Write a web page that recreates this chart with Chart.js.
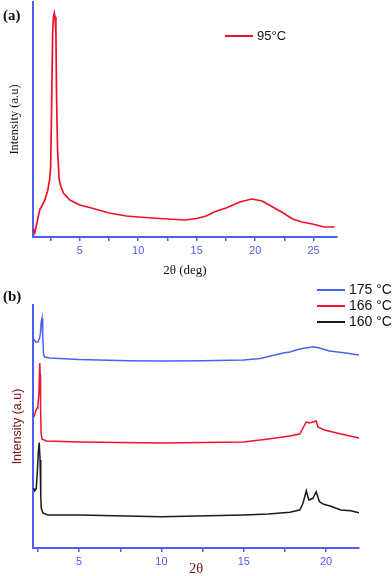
<!DOCTYPE html>
<html>
<head>
<meta charset="utf-8">
<script src="https://cdn.jsdelivr.net/npm/chart.js@4.4.1/dist/chart.umd.min.js"></script>
<style>
  html, body { margin: 0; padding: 0; background: #fff; }
  #wrap { position: relative; width: 392px; height: 576px; }
  canvas { position: absolute; left: 0; }
  #chartA { top: 0; }
  #chartB { top: 284px; }
  .tag { position: absolute; left: 3px; font: bold 15px 'Liberation Serif', serif; color: #111; }
</style>
</head>
<body>
<div id="wrap">
  <canvas id="chartA" width="392" height="284"></canvas>
  <canvas id="chartB" width="392" height="292"></canvas>
  <div class="tag" style="top:7px">(a)</div>
  <div class="tag" style="top:288px">(b)</div>
</div>
<script>
// Panel (a): 95 °C scan
const theta95 = [1.0, 1.15, 1.3, 1.57, 1.8, 2.02, 2.25, 2.42, 2.51, 2.6, 2.68, 2.75, 2.82, 2.89, 2.96, 3.02, 3.1, 3.24, 3.4, 3.6, 4.15, 5, 6, 7.5, 9, 10, 12.5, 14, 15, 15.8, 16.5, 17.5, 18.7, 19.7, 20.6, 21.5, 22.4, 23.2, 24, 24.9, 25.9, 26.8];
const int95 = [9, 4, 12, 27, 32, 37, 46, 57, 70, 137, 204, 220, 224, 220, 204, 137, 87, 57, 50, 44, 37, 32, 29, 24, 21, 20, 18, 17, 18.5, 21, 25, 29, 35, 38, 36, 30, 24, 18, 15, 13, 10, 10];

// Panel (b): three temperatures, stacked
const theta175 = [2.25, 2.35, 2.5, 2.6, 2.65, 2.7, 2.75, 2.79, 2.84, 2.9, 3.2, 5, 8, 10, 12.5, 15, 16, 17.4, 17.8, 18.4, 19.2, 19.6, 20.2, 21.2, 22];
const int175 = [209, 206, 206, 210, 215, 226, 230, 213, 194, 191, 190, 188.5, 187.3, 187, 187.3, 188, 189.5, 195, 196, 199, 201.3, 200, 197, 195, 193];

const theta166 = [2.25, 2.35, 2.45, 2.5, 2.56, 2.61, 2.64, 2.66, 2.69, 2.75, 3.0, 5, 10, 15, 16.5, 17.8, 18.4, 18.6, 18.8, 19.0, 19.2, 19.4, 19.5, 19.9, 20.9, 22];
const int166 = [131, 136, 140, 143, 155, 185, 173, 138, 115, 109, 107, 106, 105, 106, 109, 112, 114, 120, 126, 125, 126, 127, 121, 118, 114, 110];

const theta160 = [2.25, 2.3, 2.35, 2.4, 2.47, 2.53, 2.58, 2.63, 2.67, 2.7, 2.8, 3.1, 5, 10, 15, 16.5, 17.8, 18.4, 18.6, 18.8, 18.95, 19.2, 19.4, 19.6, 19.85, 20.25, 20.9, 21.5, 22];
const int160 = [60, 57, 58, 60, 78, 98, 105.5, 88, 53, 40, 35, 33, 33, 31.3, 33, 34, 35.7, 38, 44.7, 57.3, 48, 49.7, 56.3, 46.3, 43.7, 42, 38, 37.3, 35.3];

const ticksA = [2.5, 5, 7.5, 10, 12.5, 15, 17.5, 20, 22.5, 25];
const ticksB = [2.5, 5, 7.5, 10, 12.5, 15, 17.5, 20];

const blueAxis = '#4c5ff0';
const maroon = '#7b1416';
const sans = "'Liberation Sans', Arial, sans-serif";
const serif = "'Liberation Serif', 'Times New Roman', serif";

function pairs(xs, ys) {
    return xs.map((x, i) => ({ x: x, y: ys[i] }));
}

function tickLabel(v) {
    return v % 5 === 0 ? v : '';
}

// Legend drawn at a fixed spot, rows taken from the datasets
const seriesKey = {
    id: 'seriesKey',
    afterDraw(chart, args, opts) {
        const ctx = chart.ctx;
        ctx.save();
        ctx.font = opts.font;
        ctx.textBaseline = 'middle';
        chart.data.datasets.forEach((ds, i) => {
            const y = opts.y + i * opts.rowGap;
            ctx.strokeStyle = ds.borderColor;
            ctx.lineWidth = opts.lineWidth;
            ctx.beginPath();
            ctx.moveTo(opts.x, y);
            ctx.lineTo(opts.x + opts.lineLen, y);
            ctx.stroke();
            ctx.fillStyle = '#111';
            ctx.fillText(ds.label, opts.x + opts.lineLen + 4, y);
        });
        ctx.restore();
    }
};

document.addEventListener('DOMContentLoaded', function() {
    new Chart(document.getElementById('chartA'), {
        type: 'line',
        data: {
            datasets: [{
                label: '95°C',
                data: pairs(theta95, int95),
                borderColor: '#f0102a',
                borderWidth: 1.7,
                pointRadius: 0,
                tension: 0
            }]
        },
        options: {
            responsive: false,
            animation: false,
            layout: { padding: { left: 0, top: 2, right: 55, bottom: 0 } },
            plugins: {
                legend: { display: false },
                tooltip: { enabled: false },
                seriesKey: { x: 225, y: 36, rowGap: 16, lineLen: 28, lineWidth: 2, font: '13px ' + sans }
            },
            scales: {
                x: {
                    type: 'linear',
                    min: 1,
                    max: 27,
                    afterFit: s => { s.height = 47; },
                    afterBuildTicks: s => { s.ticks = ticksA.map(v => ({ value: v })); },
                    ticks: { color: blueAxis, font: { family: sans, size: 11 }, padding: 3, autoSkip: false, maxRotation: 0, callback: tickLabel },
                    grid: { drawOnChartArea: false, drawTicks: true, tickLength: 4, color: blueAxis, lineWidth: 1.5 },
                    border: { color: blueAxis, width: 2 },
                    title: { display: true, text: '2θ (deg)', color: '#111', font: { family: serif, size: 13 }, padding: { top: 0, bottom: 6 } }
                },
                y: {
                    min: 0,
                    max: 235,
                    afterFit: s => { s.width = 33; },
                    ticks: { display: false },
                    grid: { display: false },
                    border: { color: blueAxis, width: 2 },
                    title: { display: true, text: 'Intensity (a.u)', color: '#111', font: { family: serif, size: 12.5 }, padding: { top: 7, bottom: 0 } }
                }
            }
        },
        plugins: [seriesKey]
    });

    new Chart(document.getElementById('chartB'), {
        type: 'line',
        data: {
            datasets: [
                { label: '175 °C', data: pairs(theta175, int175), borderColor: '#4a62f0', borderWidth: 1.5, pointRadius: 0, tension: 0 },
                { label: '166 °C', data: pairs(theta166, int166), borderColor: '#f01030', borderWidth: 1.5, pointRadius: 0, tension: 0 },
                { label: '160 °C', data: pairs(theta160, int160), borderColor: '#1a1a1a', borderWidth: 1.5, pointRadius: 0, tension: 0 }
            ]
        },
        options: {
            responsive: false,
            animation: false,
            layout: { padding: { left: 0, top: 21, right: 33, bottom: 0 } },
            plugins: {
                legend: { display: false },
                tooltip: { enabled: false },
                seriesKey: { x: 317, y: 6, rowGap: 16, lineLen: 28, lineWidth: 2, font: '14px ' + sans }
            },
            scales: {
                x: {
                    type: 'linear',
                    min: 2.2,
                    max: 22,
                    afterFit: s => { s.height = 28; },
                    afterBuildTicks: s => { s.ticks = ticksB.map(v => ({ value: v })); },
                    ticks: { color: blueAxis, font: { family: sans, size: 11 }, padding: 3, autoSkip: false, maxRotation: 0, callback: tickLabel },
                    grid: { drawOnChartArea: false, drawTicks: true, tickLength: 4, color: blueAxis, lineWidth: 1.5 },
                    border: { color: blueAxis, width: 2 },
                    title: { display: true, text: '2θ', color: maroon, font: { family: serif, size: 14.5, lineHeight: 1 }, padding: { top: 0, bottom: 0 } }
                },
                y: {
                    min: 0,
                    max: 243,
                    afterFit: s => { s.width = 33; },
                    ticks: { display: false },
                    grid: { display: false },
                    border: { color: blueAxis, width: 2 },
                    title: { display: true, text: 'Intensity (a.u)', color: maroon, font: { family: sans, size: 12.5 }, padding: { top: 10, bottom: 0 } }
                }
            }
        },
        plugins: [seriesKey]
    });
});
</script>
</body>
</html>
